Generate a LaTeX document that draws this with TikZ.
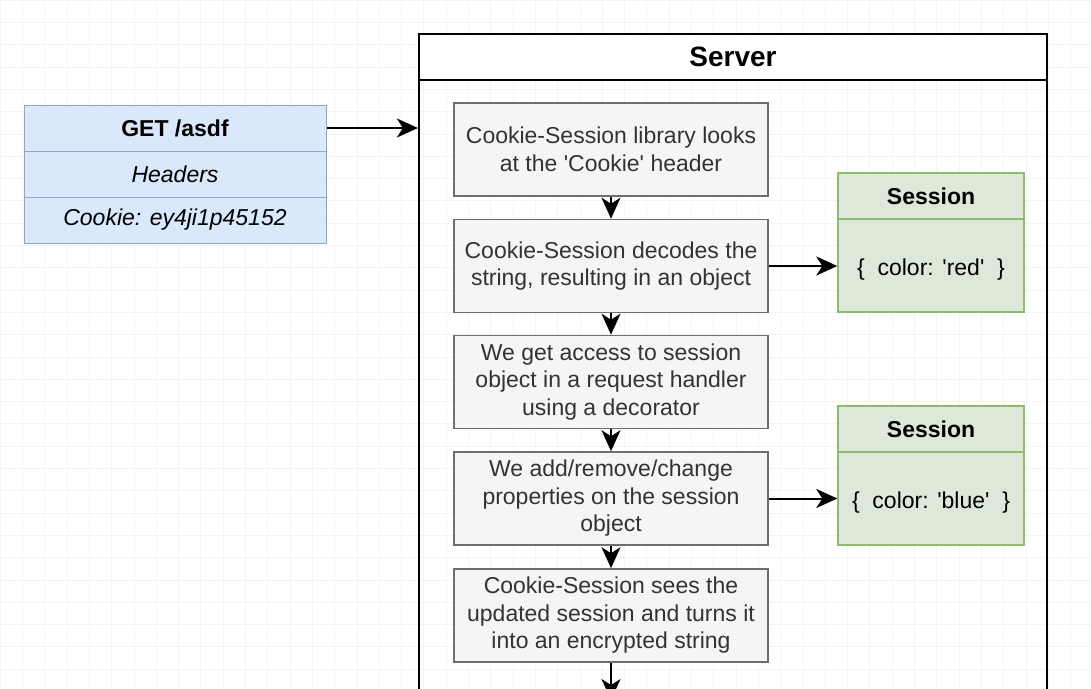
\documentclass[tikz,border=0pt]{standalone}
\usepackage{fontspec}
\setmainfont{Liberation Sans}
\usetikzlibrary{arrows.meta,positioning}
\definecolor{reqfill}{HTML}{DAE8FC}
\definecolor{reqline}{HTML}{8FA6C8}
\definecolor{stepfill}{HTML}{F5F5F5}
\definecolor{stepline}{HTML}{6E6E6E}
\definecolor{steptext}{HTML}{333333}
\definecolor{sessfill}{HTML}{DDE8D8}
\definecolor{sessline}{HTML}{8DBB72}
\tikzset{>={Stealth[length=21pt,width=19pt,inset=6pt]}}
\tikzset{
  txt/.style={font=\fontsize{23}{27.5}\selectfont},
  reqrow/.style={draw=reqline,line width=1pt,fill=reqfill,minimum width=302pt,minimum height=46pt,inner sep=0pt},
  stepbox/.style={txt,draw=stepline,line width=1.6pt,fill=stepfill,text=steptext,minimum width=314pt,minimum height=93pt,align=center,inner sep=0pt,execute at begin node={\rule{0pt}{25pt}}},
  sesshead/.style={draw=sessline,line width=1.4pt,fill=sessfill,minimum width=186pt,minimum height=46pt,inner sep=0pt,font=\fontsize{23}{27}\selectfont\bfseries},
  sessbody/.style={txt,draw=sessline,line width=1.4pt,fill=sessfill,minimum width=186pt,minimum height=93pt,inner sep=0pt,text height=25pt},
  flow/.style={->,line width=2pt,black},
  gridline/.style={gray!9,line width=0.6pt}
}

\begin{document}
\begin{tikzpicture}[x=1pt,y=-1pt]

\useasboundingbox (0,0) rectangle (1091,688);
\clip (0,0) rectangle (1091,688);
\fill[white] (0,0) rectangle (1091,688);
\draw[gridline,step=22.3pt] (0,0) grid (1091,688);

% request
\path (175,128) node [reqrow,font=\fontsize{23}{27}\selectfont\bfseries] (req1) {GET /asdf};
\path (175,174) node [reqrow,font=\fontsize{23}{27}\selectfont\itshape] (req2) {Headers};
\path (175,220) node [reqrow,font=\fontsize{23}{27}\selectfont\itshape] (req3) {Cookie: ey4ji1p45152};

% server
\path (733,57) node [draw,line width=2.2pt,fill=white,minimum width=628pt,minimum height=46pt,inner sep=0pt,font=\fontsize{28}{32}\selectfont\bfseries] (srvhead) {Server};
\path (733,390) node [draw,line width=2.2pt,minimum width=628pt,minimum height=620pt,inner sep=0pt] (srvbody) {};

% steps
\path (611,149.5) node [stepbox] (s1) {Cookie-Session library looks\\at the \textquotesingle Cookie\textquotesingle\ header};
\path (611,266) node [stepbox] (s2) {Cookie-Session decodes the\\string, resulting in an object};
\path (611,382) node [stepbox] (s3) {We get access to session\\object in a request handler\\using a decorator};
\path (611,498.5) node [stepbox] (s4) {We add/remove/change\\properties on the session\\object};
\path (611,615.5) node [stepbox] (s5) {Cookie-Session sees the\\updated session and turns it\\into an encrypted string};
\coordinate (out) at (611,700);

% sessions
\path (931,196) node [sesshead] (sess1) {Session};
\path (931,265.5) node [sessbody] (sess1b) {\{\ \ color: \textquotesingle red\textquotesingle\ \ \}};
\path (931,429) node [sesshead] (sess2) {Session};
\path (931,498.5) node [sessbody] (sess2b) {\{\ \ color: \textquotesingle blue\textquotesingle\ \ \}};

% arrows
\draw [flow] (req1.east) -- (req1.east -| srvbody.west);
\draw [flow] (s1) -- (s2);
\draw [flow] (s2) -- (s3);
\draw [flow] (s3) -- (s4);
\draw [flow] (s4) -- (s5);
\draw [flow] (s5) -- (out);
\draw [flow] (s2.east) -- (s2.east -| sess1b.west);
\draw [flow] (s4.east) -- (s4.east -| sess2b.west);

\end{tikzpicture}
\end{document}
